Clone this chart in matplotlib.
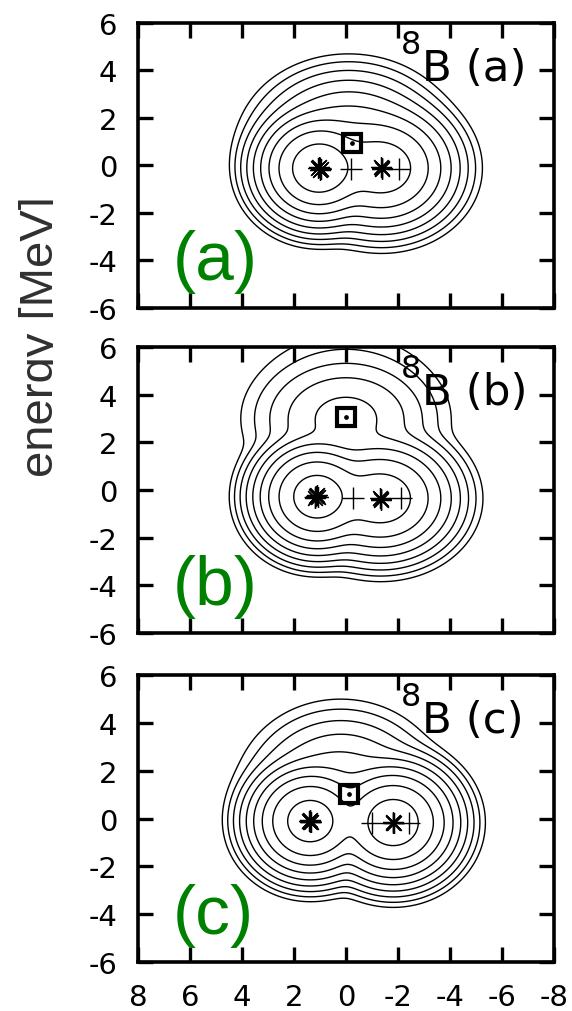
import numpy as np
import matplotlib
matplotlib.use("Agg")
import matplotlib.pyplot as plt
from matplotlib.transforms import Bbox, TransformedBbox

plt.rcParams['font.family'] = ['DejaVu Sans']
plt.rcParams['axes.unicode_minus'] = False
SANS = ['Liberation Sans', 'DejaVu Sans']

# density levels (log scale, same for all three maps)
log_levels = [0.00, 1.32, 2.64, 3.96, 5.28, 6.60, 7.92, 9.24, 10.56]

# Gaussian clusters per map: alpha, 3He, valence proton (+ proton tail in b)
cx_a = [1.05, -1.38, -0.10]
cy_a = [-0.12, -0.12, 0.90]
wx_a = [1.00, 1.22, 1.53]
wy_a = [1.00, 1.13, 1.35]
lnamp_a = [11.56, 10.05, 7.92]

cx_b = [1.12, -1.33, 0.00, 0.00]
cy_b = [-0.28, -0.35, 3.00, 3.00]
wx_b = [1.00, 1.24, 1.60, 2.00]
wy_b = [1.00, 1.10, 1.20, 1.90]
lnamp_b = [11.35, 10.10, 5.70, 3.40]

cx_c = [1.38, -1.82, 0.20]
cy_c = [-0.11, -0.17, 1.10]
wx_c = [1.00, 1.05, 1.60]
wy_c = [1.00, 1.05, 1.53]
lnamp_c = [11.30, 11.40, 6.47]

# nucleon centres (asterisks), cluster centres (+), proton (square)
star_x_a = [1.02, 0.96, 1.08, 1.00, -1.36, -1.40, -1.38]
star_y_a = [-0.05, -0.14, -0.12, -0.20, -0.08, -0.14, -0.11]
plus_x_a = [1.00, -0.21, -2.04]
plus_y_a = [-0.12, -0.15, -0.15]
sq_a = (-0.24, 0.93)

star_x_b = [1.15, 1.08, 1.20, 1.12, -1.30, -1.36, -1.33]
star_y_b = [-0.25, -0.30, -0.32, -0.22, -0.32, -0.38, -0.40]
plus_x_b = [1.20, -0.28, -2.10]
plus_y_b = [-0.28, -0.32, -0.35]
sq_b = (0.00, 3.05)

star_x_c = [1.40, 1.34, 1.44, 1.38, -1.80, -1.84, -1.82]
star_y_c = [-0.08, -0.14, -0.12, -0.16, -0.14, -0.20, -0.17]
plus_x_c = [1.38, -1.01, -2.41]
plus_y_c = [-0.11, -0.20, -0.20]
sq_c = (-0.10, 1.04)

panel_tags = ['a', 'b', 'c']
xticks = [8, 6, 4, 2, 0, -2, -4, -6, -8]
yticks = [-6, -4, -2, 0, 2, 4, 6]

maps = [
    (cx_a, cy_a, wx_a, wy_a, lnamp_a, star_x_a, star_y_a, plus_x_a, plus_y_a, sq_a),
    (cx_b, cy_b, wx_b, wy_b, lnamp_b, star_x_b, star_y_b, plus_x_b, plus_y_b, sq_b),
    (cx_c, cy_c, wx_c, wy_c, lnamp_c, star_x_c, star_y_c, plus_x_c, plus_y_c, sq_c),
]

fig = plt.figure(figsize=(5.72, 10.12), dpi=100)
left, width = 0.2413, 0.727
bottoms = [0.6947, 0.3735, 0.0484]
heights = [0.2816, 0.2826, 0.2836]

gx = np.linspace(-8, 8, 641)
gy = np.linspace(-6, 6, 481)
X, Y = np.meshgrid(gx, gy)

asterisk = (8, 2, 0)

for i, (cx, cy, wx, wy, lnamp, sx, sy, px, py, sq) in enumerate(maps):
    ax = fig.add_axes([left, bottoms[i], width, heights[i]])
    rho = np.zeros_like(X)
    for x0, y0, bx, by, la in zip(cx, cy, wx, wy, lnamp):
        rho += np.exp(la - (X - x0) ** 2 / bx ** 2 - (Y - y0) ** 2 / by ** 2)
    ax.contour(X, Y, np.log(rho), levels=log_levels, colors='k', linewidths=1.0)

    ax.plot(sx, sy, ls='none', marker=asterisk, ms=15, mew=0.9, color='k')
    ax.plot(px, py, ls='none', marker='+', ms=16, mew=1.0, color='k')
    ax.plot(sq[0], sq[1], ls='none', marker='s', ms=13, mew=3.0, mfc='none', mec='k')
    ax.plot(sq[0], sq[1], ls='none', marker='o', ms=2.4, color='k')

    ax.set_xlim(8, -8)
    ax.set_ylim(-6, 6)
    ax.set_xticks(xticks)
    ax.set_yticks(yticks)
    ax.tick_params(direction='in', top=True, right=True, length=11, width=2.4,
                   pad=15, labelsize=21)
    if i < 2:
        ax.tick_params(labelbottom=False)
    for s in ax.spines.values():
        s.set_linewidth(2.6)

    ax.text(0.632, 0.895, '8', transform=ax.transAxes, fontsize=23, ha='left', va='baseline')
    ax.text(0.682, 0.80, 'B (%s)' % panel_tags[i], transform=ax.transAxes,
            fontsize=31.3, ha='left', va='baseline')
    ax.text(0.084, 0.10, '(%s)' % panel_tags[i], transform=ax.transAxes,
            fontsize=50, color='#008000', ha='left', va='baseline', family=SANS)

lab = fig.text(0.0927, 0.667, 'energy [MeV]', rotation=90, rotation_mode='anchor',
               ha='center', va='baseline', fontsize=34, color='#303030', family=SANS)
lab.set_clip_box(TransformedBbox(Bbox([[0, 0], [0.0927, 1]]), fig.transFigure))

fig.savefig('out.png', dpi=100)
